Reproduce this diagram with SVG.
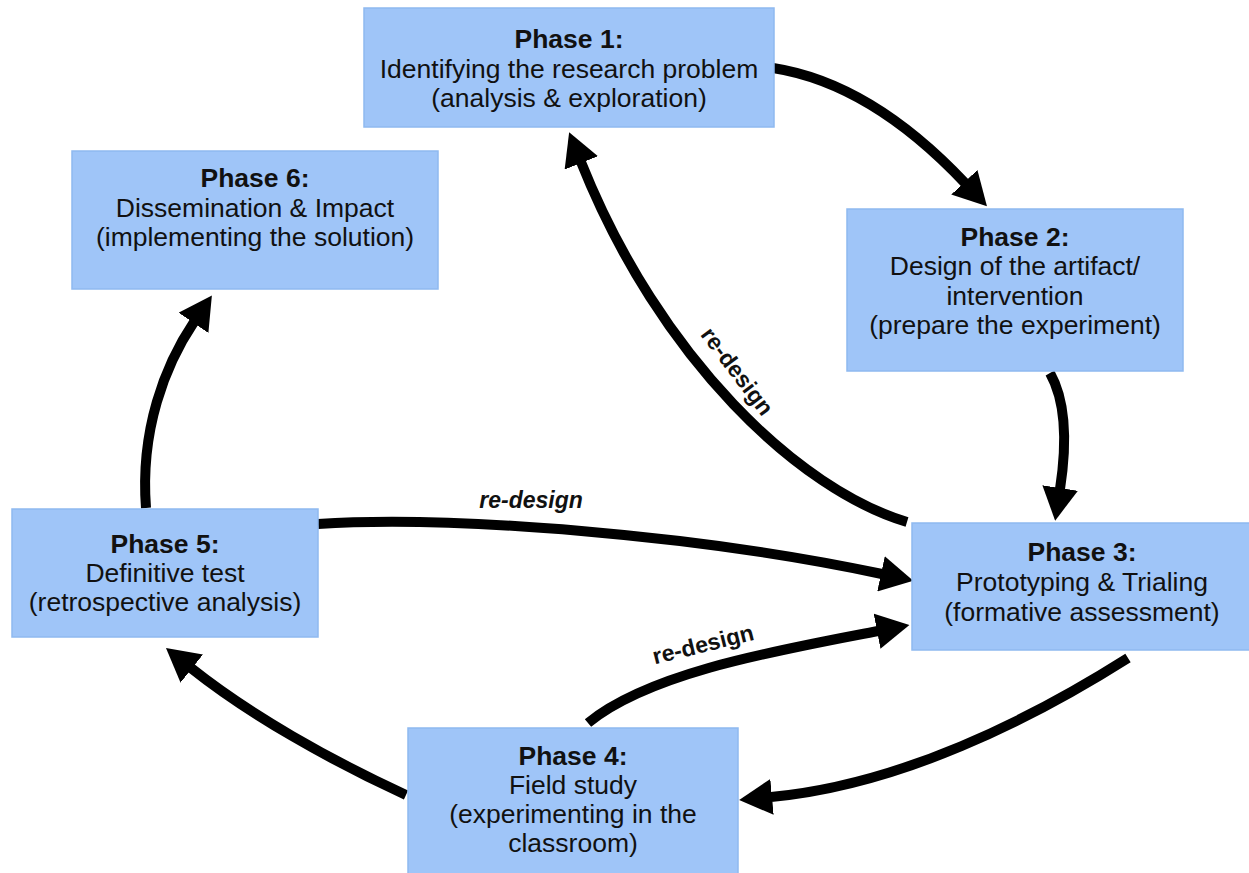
<svg xmlns="http://www.w3.org/2000/svg" width="1249" height="873" viewBox="0 0 1249 873">
<style>
.box{fill:#9fc5f8;stroke:#8fb9f0;stroke-width:1.5}
.t{font-family:"Liberation Sans",Arial,sans-serif;font-size:26.5px;fill:#111;text-anchor:middle}
.b{font-weight:bold}
.edge{fill:none;stroke:#000;stroke-width:10;marker-end:url(#ah)}
.lbl{font-family:"Liberation Sans",Arial,sans-serif;font-size:23px;font-weight:bold;fill:#111;text-anchor:middle}
</style>
<defs>
<marker id="ah" viewBox="0 0 33 36" refX="1" refY="18" markerWidth="33" markerHeight="36" markerUnits="userSpaceOnUse" orient="auto">
<path d="M0,0 L33,18 L0,36 Z" fill="#000"/>
</marker>
</defs>
<rect width="1249" height="873" fill="#fff"/>
<g id="connectors">
<path class="edge" d="M773,68 C850,80 915,130 965,183"/>
<path class="edge" d="M1050,373 C1068,405 1066,450 1060,489"/>
<path class="edge" d="M1128,658 C1030,720 900,785 771,797"/>
<path class="edge" d="M406,795 C330,760 250,715 191,668"/>
<path class="edge" d="M146,508 C140,430 165,365 194,322"/>
<path class="edge" d="M907,522 C800,490 660,360 581,162"/>
<path class="edge" d="M318,524 C450,515 700,535 882,574"/>
<path class="edge" d="M588,723 C650,672 780,650 878,631"/>
<text class="lbl" transform="translate(731,376) rotate(53)">re-design</text>
<text class="lbl" x="531" y="508" font-style="italic">re-design</text>
<text class="lbl" transform="translate(705,652) rotate(-14)">re-design</text>
</g>
<g id="phase1">
<rect class="box" x="364" y="8" width="410" height="119"/>
<text class="t b" x="569" y="48">Phase 1:</text>
<text class="t" x="569" y="77.5">Identifying the research problem</text>
<text class="t" x="569" y="107">(analysis &amp; exploration)</text>
</g>
<g id="phase2">
<rect class="box" x="847" y="209" width="336" height="162"/>
<text class="t b" x="1015" y="246">Phase 2:</text>
<text class="t" x="1015" y="275">Design of the artifact/</text>
<text class="t" x="1015" y="305">intervention</text>
<text class="t" x="1015" y="334">(prepare the experiment)</text>
</g>
<g id="phase3">
<rect class="box" x="912" y="523" width="345" height="127"/>
<text class="t b" x="1082" y="561">Phase 3:</text>
<text class="t" x="1082" y="591">Prototyping &amp; Trialing</text>
<text class="t" x="1082" y="621">(formative assessment)</text>
</g>
<g id="phase4">
<rect class="box" x="408" y="728" width="330" height="155"/>
<text class="t b" x="573" y="765">Phase 4:</text>
<text class="t" x="573" y="794">Field study</text>
<text class="t" x="573" y="823">(experimenting in the</text>
<text class="t" x="573" y="852">classroom)</text>
</g>
<g id="phase5">
<rect class="box" x="12" y="509" width="306" height="128"/>
<text class="t b" x="165" y="553">Phase 5:</text>
<text class="t" x="165" y="582">Definitive test</text>
<text class="t" x="165" y="611">(retrospective analysis)</text>
</g>
<g id="phase6">
<rect class="box" x="72" y="151" width="366" height="138"/>
<text class="t b" x="255" y="187">Phase 6:</text>
<text class="t" x="255" y="216.5">Dissemination &amp; Impact</text>
<text class="t" x="255" y="246">(implementing the solution)</text>
</g>
</svg>
